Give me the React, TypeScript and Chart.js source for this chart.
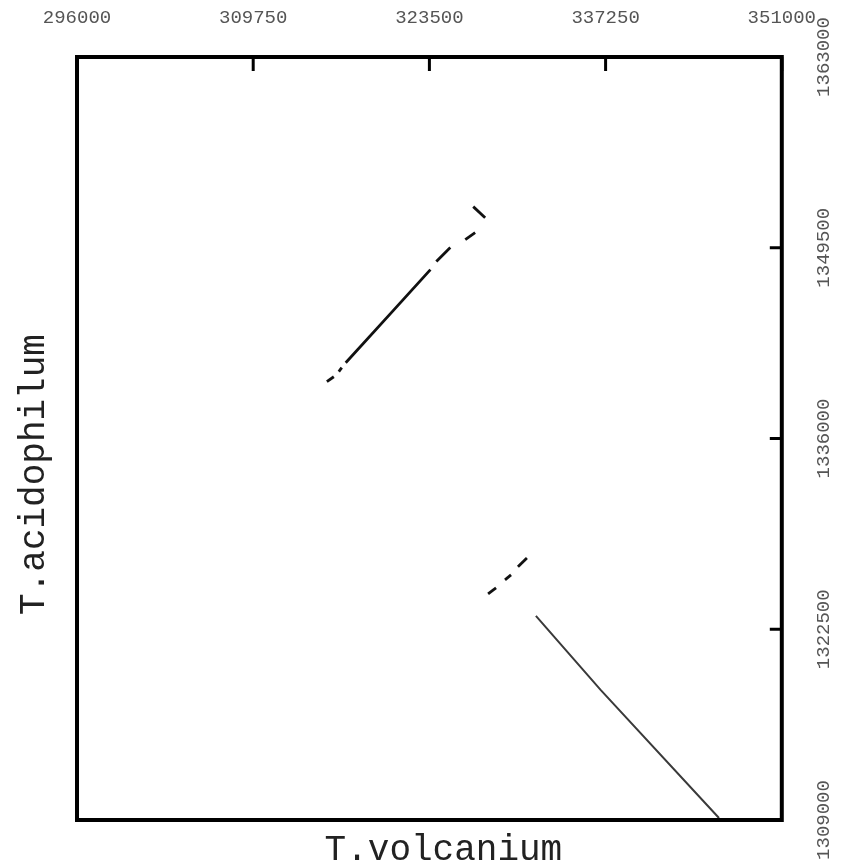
import React, { useEffect, useRef } from "react";
import { Chart, registerables } from "chart.js";

Chart.register(...registerables);

// Axis ticks
const xTicks = [296000, 309750, 323500, 337250, 351000];
const yTicks = [1309000, 1322500, 1336000, 1349500, 1363000];

// Axis titles
const xTitle = "T.volcanium";
const yTitle = "T.acidophilum";

// Forward matches (null separates fragments)
const forwardX = [315500, 316040, null, 316430, 316660, null, 316970, 320550, 323580, null, 324040, 325130, null, 326300, 327070, null, 326920, 327850];
const forwardY = [1340020, 1340370, null, 1340730, 1341010, null, 1341360, 1344930, 1347950, null, 1348520, 1349510, null, 1350080, 1350570, null, 1352410, 1351630];

// Reverse matches (null separates fragments)
const reverseX = [328080, 328700, null, 329400, 329870, null, 330410, 331110, null, 331810, 336860, 346100];
const reverseY = [1325010, 1325430, null, 1326000, 1326350, null, 1326920, 1327550, null, 1323450, 1318210, 1309140];

function splitFragments(xs: (number | null)[], ys: (number | null)[]) {
  const out: { x: number; y: number }[][] = [];
  let cur: { x: number; y: number }[] = [];
  xs.forEach((x, i) => {
    const y = ys[i];
    if (x === null || y === null) {
      if (cur.length) out.push(cur);
      cur = [];
    } else {
      cur.push({ x, y });
    }
  });
  if (cur.length) out.push(cur);
  return out;
}

const titleFontCss = "36px 'Liberation Mono'";

const frameAndTicks = {
  id: "frameAndTicks",
  afterDraw(chart: any) {
    const { ctx, chartArea: a, scales } = chart;
    ctx.save();
    ctx.strokeStyle = "#000";
    ctx.lineWidth = 3;
    scales.x.ticks.forEach((t: any) => {
      const px = scales.x.getPixelForValue(t.value);
      ctx.beginPath();
      ctx.moveTo(px, a.top);
      ctx.lineTo(px, a.top + 14);
      ctx.stroke();
    });
    scales.y.ticks.forEach((t: any) => {
      const py = scales.y.getPixelForValue(t.value);
      ctx.beginPath();
      ctx.moveTo(a.right, py);
      ctx.lineTo(a.right - 12, py);
      ctx.stroke();
    });
    ctx.lineWidth = 4;
    ctx.strokeRect(a.left, a.top, a.right - a.left, a.bottom - a.top);

    // axis titles, placed as in the reference (slightly off-centre)
    ctx.fillStyle = "#222";
    ctx.font = titleFontCss;
    ctx.textAlign = "center";
    ctx.textBaseline = "middle";
    ctx.fillText(xTitle, (a.left + a.right) / 2 + 14, a.bottom + 30);
    ctx.translate(a.left - 43, (a.top + a.bottom) / 2 + 36);
    ctx.rotate(-Math.PI / 2);
    ctx.fillText(yTitle, 0, 0);
    ctx.restore();
  },
};

export default function App() {
  const ref = useRef<HTMLCanvasElement>(null);

  useEffect(() => {
    if (!ref.current) return;
    const fwd = splitFragments(forwardX, forwardY);
    const rev = splitFragments(reverseX, reverseY);
    const datasets: any[] = [];
    fwd.forEach((pts) =>
      datasets.push({ data: pts, showLine: true, borderColor: "#111", borderWidth: 2.8, pointRadius: 0, fill: false })
    );
    rev.forEach((pts, i) => {
      const long = i === rev.length - 1;
      datasets.push({
        data: pts,
        showLine: true,
        borderColor: long ? "#3a3a3a" : "#111",
        borderWidth: long ? 2 : 2.8,
        pointRadius: 0,
        fill: false,
      });
    });

    const tickFont = { family: "Liberation Mono", size: 19 };

    const chart = new Chart(ref.current, {
      type: "scatter",
      data: { datasets },
      options: {
        animation: false,
        responsive: false,
        layout: { padding: 0 },
        plugins: { legend: { display: false }, tooltip: { enabled: false } },
        scales: {
          x: {
            type: "linear",
            position: "top",
            min: xTicks[0],
            max: xTicks[xTicks.length - 1],
            afterBuildTicks: (s: any) => {
              s.ticks = xTicks.map((v) => ({ value: v }));
            },
            afterFit: (s: any) => {
              s.height = 57;
            },
            grid: { display: false, drawTicks: false },
            border: { display: false },
            ticks: {
              autoSkip: false,
              maxRotation: 0,
              padding: 28,
              color: "#555",
              font: tickFont,
              callback: (v: any) => String(v),
            },
          },
          x2: {
            type: "linear",
            position: "bottom",
            min: xTicks[0],
            max: xTicks[xTicks.length - 1],
            afterFit: (s: any) => {
              s.height = 48;
            },
            grid: { display: false, drawTicks: false },
            border: { display: false },
            ticks: { display: false },
          },
          y: {
            type: "linear",
            position: "right",
            min: yTicks[0],
            max: yTicks[yTicks.length - 1],
            afterBuildTicks: (s: any) => {
              s.ticks = yTicks.map((v) => ({ value: v }));
            },
            afterFit: (s: any) => {
              s.width = 59;
            },
            grid: { display: false, drawTicks: false },
            border: { display: false },
            ticks: {
              autoSkip: false,
              minRotation: 90,
              maxRotation: 90,
              crossAlign: "center",
              padding: 2,
              color: "#555",
              font: tickFont,
              callback: (v: any) => String(v),
            },
          },
          y2: {
            type: "linear",
            position: "left",
            min: yTicks[0],
            max: yTicks[yTicks.length - 1],
            afterFit: (s: any) => {
              s.width = 77;
            },
            grid: { display: false, drawTicks: false },
            border: { display: false },
            ticks: { display: false },
          },
        },
      } as any,
      plugins: [frameAndTicks],
    });
    return () => chart.destroy();
  }, []);

  return (
    <div style={{ position: "absolute", left: 0, top: 0, width: 844, height: 868, background: "#fff" }}>
      <canvas ref={ref} width={844} height={868} />
    </div>
  );
}
